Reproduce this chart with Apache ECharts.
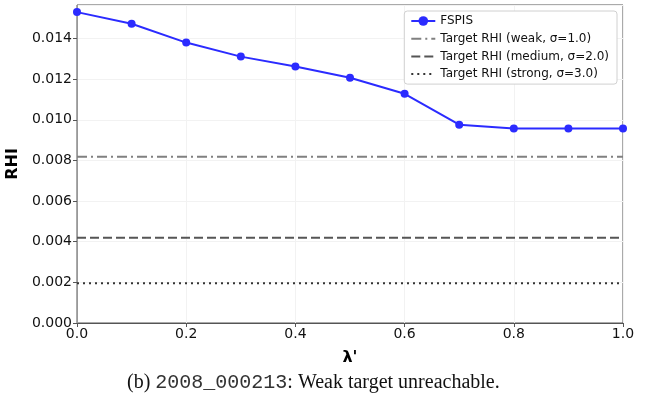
<!DOCTYPE html>
<html><head><meta charset="utf-8">
<script src="https://cdn.jsdelivr.net/npm/echarts@6/dist/echarts.min.js"></script>
<style>html,body{margin:0;padding:0;background:#fff}#c{width:645px;height:403px}</style>
</head><body><div id="c"></div>
<script>
const lambdas = [0.0, 0.1, 0.2, 0.3, 0.4, 0.5, 0.6, 0.7, 0.8, 0.9, 1.0];
const fspis = [0.01530, 0.01473, 0.01380, 0.01311, 0.01262, 0.01207, 0.01128, 0.00976, 0.00957, 0.00957, 0.00957];
const targetNames = ['Target RHI (weak, σ=1.0)', 'Target RHI (medium, σ=2.0)', 'Target RHI (strong, σ=3.0)'];
const targetValues = [0.00818, 0.00419, 0.00196];
const xTicks = [0.0, 0.2, 0.4, 0.6, 0.8, 1.0];
const yTicks = [0.000, 0.002, 0.004, 0.006, 0.008, 0.010, 0.012, 0.014];

const targetStyles = [
  {color: '#808080', type: [10, 4, 2, 4]},
  {color: '#555555', type: [9, 4]},
  {color: '#333333', type: [2, 4]}
];

const chart = echarts.init(document.getElementById('c'));
const series = [{
  name: 'FSPIS', type: 'line',
  data: lambdas.map((x, i) => [x, fspis[i]]),
  symbol: 'circle', symbolSize: 8,
  lineStyle: {color: '#2b2bff', width: 2},
  itemStyle: {color: '#2b2bff'},
  z: 5
}];
targetNames.forEach((n, i) => {
  series.push({
    name: n, type: 'line', symbol: 'none',
    data: [[lambdas[0], targetValues[i]], [lambdas[lambdas.length - 1], targetValues[i]]],
    lineStyle: {color: targetStyles[i].color, width: 2, type: targetStyles[i].type},
    itemStyle: {color: targetStyles[i].color}
  });
});

chart.setOption({
  animation: false,
  grid: {left: 77, right: 22, top: 5, bottom: 80, show: true, borderColor: '#555', borderWidth: 1, outerBoundsMode: 'none', containLabel: false},
  legend: {
    orient: 'vertical', right: 28, top: 11,
    backgroundColor: '#fff', borderColor: '#d0d0d0', borderWidth: 1, borderRadius: 3,
    padding: [4, 8, 4, 6], itemGap: 5.7, itemWidth: 24, itemHeight: 12,
    textStyle: {fontFamily: 'DejaVu Sans', fontSize: 12, color: '#111'},
    data: [{name: 'FSPIS'}].concat(targetNames.map(n => ({name: n, itemStyle: {opacity: 0}})))
  },
  xAxis: {
    type: 'value', min: 0, max: 1, interval: 0.2,
    name: "λ'", nameLocation: 'middle', nameGap: 27,
    nameTextStyle: {fontFamily: 'DejaVu Sans', fontWeight: 'bold', fontSize: 16, color: '#000'},
    axisLine: {lineStyle: {color: '#555'}},
    axisTick: {show: true, length: 4, lineStyle: {color: '#555'}},
    axisLabel: {fontFamily: 'DejaVu Sans', fontSize: 14, color: '#111', margin: 4, formatter: v => v.toFixed(1)},
    splitLine: {show: true, lineStyle: {color: '#f2f2f2', width: 1}}
  },
  yAxis: {
    type: 'value', min: 0, max: 0.01565, interval: 0.002,
    name: 'RHI', nameLocation: 'middle', nameGap: 52, nameRotate: 90,
    nameTextStyle: {fontFamily: 'DejaVu Sans', fontWeight: 'bold', fontSize: 16, color: '#000'},
    axisLine: {show: true, lineStyle: {color: '#999'}},
    axisTick: {show: true, length: 4, lineStyle: {color: '#555'}},
    axisLabel: {fontFamily: 'DejaVu Sans', fontSize: 14, color: '#111', margin: 5, showMaxLabel: false,
      formatter: v => yTicks.some(t => Math.abs(t - v) < 1e-9) ? v.toFixed(3) : ''},
    splitLine: {show: true, lineStyle: {color: '#f2f2f2', width: 1}}
  },
  graphic: [{
    type: 'text', left: 127, top: 373,
    style: {
      text: '{s|(b) }{m|2008_000213}{s|: Weak target unreachable.}',
      rich: {
        s: {fontFamily: 'Liberation Serif', fontSize: 20, fill: '#111'},
        m: {fontFamily: 'Liberation Mono', fontSize: 20, fill: '#333'}
      }
    }
  }],
  series: series
});
</script></body></html>
